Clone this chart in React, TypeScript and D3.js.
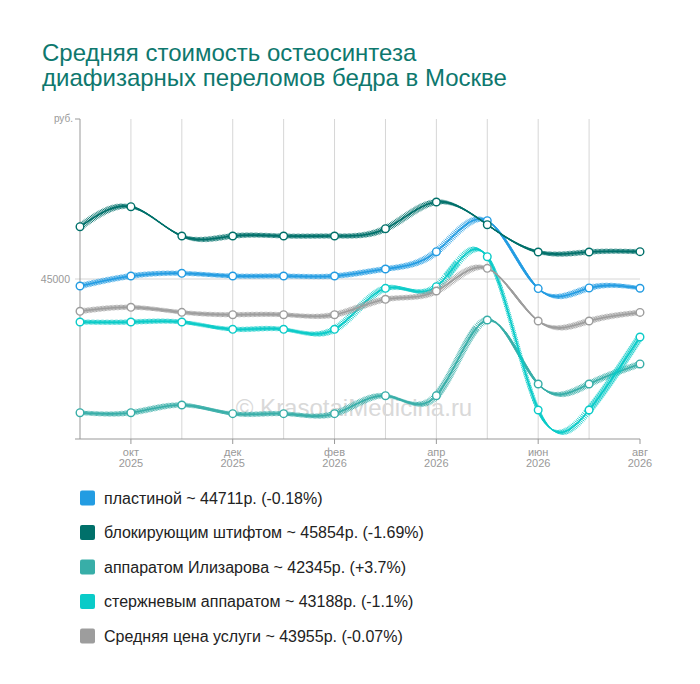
import React from 'react';
import * as d3 from 'd3';

const months = ['сен', 'окт', 'ноя', 'дек', 'янв', 'фев', 'мар', 'апр', 'май', 'июн', 'июл', 'авг'];
const years = ['2025', '2025', '2025', '2025', '2026', '2026', '2026', '2026', '2026', '2026', '2026', '2026'];
const labelled = [1, 3, 5, 7, 9, 11];

const plastina = [44781, 45094, 45178, 45094, 45094, 45094, 45313, 45853, 46822, 44700, 44720, 44711];
const blokShtift = [46634, 47259, 46344, 46344, 46344, 46344, 46572, 47406, 46697, 45844, 45844, 45854];
const ilizarov = [40822, 40822, 41063, 40791, 40791, 40791, 41353, 41353, 43719, 41719, 41719, 42345];
const sterzhen = [43656, 43656, 43656, 43428, 43428, 43428, 44709, 44759, 45697, 40906, 40906, 43188];
const srednyaya = [43991, 44116, 43959, 43884, 43884, 43884, 44366, 44625, 45334, 43688, 43688, 43955];

const names = ['пластиной', 'блокирующим штифтом', 'аппаратом Илизарова', 'стержневым аппаратом', 'Средняя цена услуги'];
const lastValues = [44711, 45854, 42345, 43188, 43955];
const changes = ['-0.18%', '-1.69%', '+3.7%', '-1.1%', '-0.07%'];
const colors = ['#239ce2', '#00706a', '#38aea8', '#0acbc8', '#9d9d9d'];
const allValues = [plastina, blokShtift, ilizarov, sterzhen, srednyaya];

const font = '"Liberation Sans", Arial, sans-serif';

// the ribbon: every hatch runs along this vector
const OX = -6;
const OY = -4.5;

type Pt = [number, number];

function sampleCurve(pts: Pt[]): Pt[] {
  const out: Pt[] = [];
  let cx = 0;
  let cy = 0;
  const ctx: any = {
    moveTo(x: number, y: number) { cx = x; cy = y; out.push([x, y]); },
    lineTo(x: number, y: number) {
      for (let t = 1; t <= 20; t++) out.push([cx + (x - cx) * t / 20, cy + (y - cy) * t / 20]);
      cx = x; cy = y;
    },
    bezierCurveTo(x1: number, y1: number, x2: number, y2: number, x: number, y: number) {
      for (let i = 1; i <= 80; i++) {
        const t = i / 80;
        const u = 1 - t;
        out.push([
          u * u * u * cx + 3 * u * u * t * x1 + 3 * u * t * t * x2 + t * t * t * x,
          u * u * u * cy + 3 * u * u * t * y1 + 3 * u * t * t * y2 + t * t * t * y,
        ]);
      }
      cx = x; cy = y;
    },
    closePath() {},
  };
  d3.line<Pt>().curve(d3.curveNatural).context(ctx)(pts);
  // resample by arc length
  const res: Pt[] = [out[0]];
  let acc = 0;
  const step = 1.0;
  for (let i = 1; i < out.length; i++) {
    const dx = out[i][0] - out[i - 1][0];
    const dy = out[i][1] - out[i - 1][1];
    acc += Math.sqrt(dx * dx + dy * dy);
    if (acc >= step) { res.push(out[i]); acc = 0; }
  }
  return res;
}

const App: React.FC = () => {
  const width = 700;
  const height = 684;
  const x0 = 80;
  const x1 = 640;
  const yTop = 119;
  const yBot = 439;

  const x = d3.scaleLinear([0, months.length - 1], [x0, x1]);
  const y = d3.scaleLinear([40000, 50000], [yBot, yTop]);

  return (
    <svg width={width} height={height} style={{ position: 'absolute', left: 0, top: 0, background: '#fff' }} fontFamily={font}>
      <text x={42} y={61} fontSize={24} fill="#0e786e">Средняя стоимость остеосинтеза</text>
      <text x={42} y={86} fontSize={24} fill="#0e786e">диафизарных переломов бедра в Москве</text>

      {/* grid */}
      {months.map((m, i) => (i > 0 && i < months.length - 1 ? (
        <line key={'g' + i} x1={x(i)} x2={x(i)} y1={yTop} y2={yBot} stroke="#d6d6d6" strokeWidth={1} />
      ) : null))}
      <line x1={x0 - 5} x2={x1} y1={y(45000)} y2={y(45000)} stroke="#d6d6d6" strokeWidth={1} />

      {/* axes */}
      <line x1={x0} x2={x0} y1={yTop} y2={yBot} stroke="#999" strokeWidth={1} />
      <line x1={x0 - 5} x2={x1} y1={yBot} y2={yBot} stroke="#999" strokeWidth={1} />
      <line x1={x0 - 5} x2={x0} y1={yTop} y2={yTop} stroke="#999" strokeWidth={1} />
      <text x={x0 - 7} y={yTop + 3} fontSize={10} fill="#999" textAnchor="end">руб.</text>
      <text x={x0 - 10} y={y(45000) + 4} fontSize={10.5} fill="#999" textAnchor="end">45000</text>
      {labelled.map((i) => (
        <g key={'t' + i}>
          <line x1={x(i)} x2={x(i)} y1={yBot} y2={yBot + 5} stroke="#999" strokeWidth={1} />
          <text x={x(i)} y={yBot + 17} fontSize={11} fill="#999" textAnchor="middle">{months[i]}</text>
          <text x={x(i)} y={yBot + 28} fontSize={11} fill="#999" textAnchor="middle">{years[i]}</text>
        </g>
      ))}

      <text x={354} y={416} fontSize={24} fill="#d9d9d9" textAnchor="middle">© KrasotaiMedicina.ru</text>

      {/* series */}
      {allValues.map((vals, si) => {
        const pts: Pt[] = vals.map((v, i) => [x(i), y(v)]);
        const samples = sampleCurve(pts);
        const path = d3.line<Pt>().curve(d3.curveNatural)(pts) || '';
        return (
          <g key={'s' + si}>
            {samples.map((p, k) => (
              <line key={k} x1={p[0] - OX / 2} y1={p[1] - OY / 2} x2={p[0] + OX / 2} y2={p[1] + OY / 2}
                stroke={colors[si]} strokeWidth={1} strokeOpacity={0.9} />
            ))}
            <path d={path} fill="none" stroke={colors[si]} strokeWidth={1.6} />
            {pts.map((p, k) => (
              <circle key={'c' + k} cx={p[0]} cy={p[1]} r={3.8} fill="#fff" stroke={colors[si]} strokeWidth={1.4} />
            ))}
          </g>
        );
      })}

      {/* legend */}
      {names.map((n, i) => {
        const cy = 498 + i * 34.5;
        return (
          <g key={'l' + i}>
            <rect x={80} y={cy - 7.5} width={15} height={15} rx={2} fill={colors[i]} />
            <text x={104} y={cy + 5.5} fontSize={16} fill="#222">{`${n} ~ ${lastValues[i]}р. (${changes[i]})`}</text>
          </g>
        );
      })}
    </svg>
  );
};

export default App;
